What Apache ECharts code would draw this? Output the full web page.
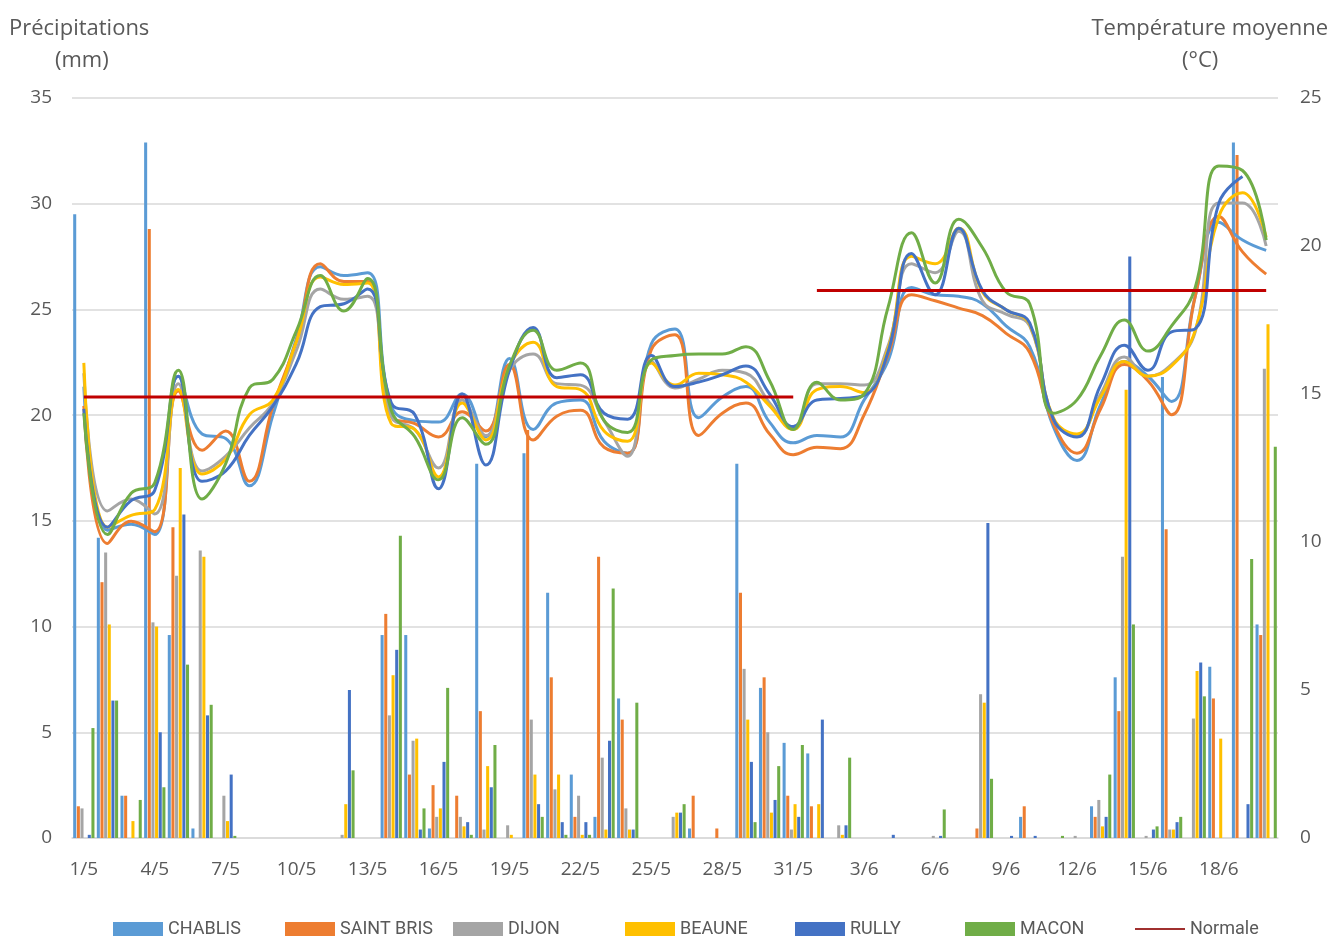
<!DOCTYPE html>
<html>
<head>
<meta charset="utf-8">
<title>Précipitations et températures</title>
<script src="https://cdn.jsdelivr.net/npm/echarts@6/dist/echarts.min.js"></script>
<style>
  html, body { margin: 0; padding: 0; background: #ffffff; }
  #chart { width: 1333px; height: 938px; }
</style>
</head>
<body>
<div id="chart"></div>
<script>
// jours (mai - juin)
const jours = [
  "1/5", "2/5", "3/5", "4/5", "5/5", "6/5", "7/5", "8/5", "9/5", "10/5",
  "11/5", "12/5", "13/5", "14/5", "15/5", "16/5", "17/5", "18/5", "19/5", "20/5",
  "21/5", "22/5", "23/5", "24/5", "25/5", "26/5", "27/5", "28/5", "29/5", "30/5",
  "31/5", "1/6", "2/6", "3/6", "4/6", "5/6", "6/6", "7/6", "8/6", "9/6",
  "10/6", "11/6", "12/6", "13/6", "14/6", "15/6", "16/6", "17/6", "18/6", "19/6",
  "20/6"
];

const stations = ["CHABLIS", "SAINT BRIS", "DIJON", "BEAUNE", "RULLY", "MACON"];
const couleurs = ["#5B9BD5", "#ED7D31", "#A5A5A5", "#FFC000", "#4472C4", "#70AD47"];

// précipitations (mm)
const pluieChablis = [
  29.5, 14.2, 2.0, 32.9, 9.6, 0.45, 0, 0, 0, 0,
  0, 0, 0, 9.6, 9.6, 0.45, 0, 17.7, 0, 18.2,
  11.6, 3.0, 1.0, 6.6, 0, 0, 0.45, 0, 17.7, 7.1,
  4.5, 4.0, 0, 0, 0, 0, 0, 0, 0, 0,
  1.0, 0, 0, 1.5, 7.6, 0, 21.8, 0, 8.1, 32.9,
  10.1
];
const pluieSaintBris = [
  1.5, 12.1, 2.0, 28.8, 14.7, 0, 0, 0, 0, 0,
  0, 0, 0, 10.6, 3.0, 2.5, 2.0, 6.0, 0, 19.3,
  7.6, 1.0, 13.3, 5.6, 0, 0, 2.0, 0.45, 11.6, 7.6,
  2.0, 1.5, 0, 0, 0, 0, 0, 0, 0.45, 0,
  1.5, 0, 0, 1.0, 6.0, 0, 14.6, 0, 6.6, 32.3,
  9.6
];
const pluieDijon = [
  1.4, 13.5, 0, 10.2, 12.4, 13.6, 2.0, 0, 0, 0,
  0, 0.15, 0, 5.8, 4.6, 1.0, 1.0, 0.4, 0.6, 5.6,
  2.3, 2.0, 3.8, 1.4, 0, 1.0, 0, 0, 8.0, 5.0,
  0.4, 0, 0.6, 0, 0, 0, 0.1, 0, 6.8, 0,
  0, 0, 0.1, 1.8, 13.3, 0.1, 0.4, 5.65, 0, 0,
  22.2
];
const pluieBeaune = [
  0, 10.1, 0.8, 10.0, 17.5, 13.3, 0.8, 0, 0, 0,
  0, 1.6, 0, 7.7, 4.7, 1.4, 0.55, 3.4, 0.15, 3.0,
  3.0, 0.15, 0.4, 0.4, 0, 1.2, 0, 0, 5.6, 1.2,
  1.6, 1.6, 0.15, 0, 0, 0, 0, 0, 6.4, 0,
  0, 0, 0, 0.55, 21.2, 0, 0.4, 7.9, 4.7, 0,
  24.3
];
const pluieRully = [
  0.15, 6.5, 0, 5.0, 15.3, 5.8, 3.0, 0, 0, 0,
  0, 7.0, 0, 8.9, 0.4, 3.6, 0.75, 2.4, 0, 1.6,
  0.75, 0.75, 4.6, 0.4, 0, 1.2, 0, 0, 3.6, 1.8,
  1.0, 5.6, 0.6, 0, 0.15, 0, 0.1, 0, 14.9, 0.1,
  0.1, 0, 0, 1.0, 27.5, 0.4, 0.75, 8.3, 0, 1.6,
  0
];
const pluieMacon = [
  5.2, 6.5, 1.8, 2.4, 8.2, 6.3, 0.1, 0, 0, 0,
  0, 3.2, 0, 14.3, 1.4, 7.1, 0.15, 4.4, 0, 1.0,
  0.15, 0.15, 11.8, 6.4, 0, 1.6, 0, 0, 0.75, 3.4,
  4.4, 0, 3.8, 0, 0, 0, 1.35, 0, 2.8, 0,
  0, 0.1, 0, 3.0, 10.1, 0.55, 1.0, 6.7, 0, 13.2,
  18.5
];

// températures moyennes (°C)
const tempChablis = [
  15.25, 10.4, 10.6, 10.25, 15.6, 13.65, 13.5, 11.9, 14.3, 16.9,
  19.3, 19.0, 19.1, 14.6, 14.1, 14.05, 15.0, 13.55, 16.2, 13.8,
  14.7, 14.8, 13.4, 13.0, 16.7, 17.2, 14.2, 14.9, 15.25, 14.05,
  13.35, 13.6, 13.55, 14.8, 16.1, 18.6, 18.35, 18.3, 18.05, 17.3,
  16.6, 13.9, 12.75, 14.65, 16.1, 15.6, 14.75, 18.3, 20.8, 20.2,
  19.85
];
const tempSaintBris = [
  14.6, 9.95, 10.7, 10.35, 15.1, 13.1, 13.75, 12.05, 14.6, 16.8,
  19.4, 18.8, 18.8, 14.25, 14.0, 13.55, 14.4, 13.75, 16.0, 13.45,
  14.25, 14.45, 13.2, 13.0, 16.5, 17.0, 13.6, 14.35, 14.7, 13.65,
  12.95, 13.2, 13.15, 14.3, 16.3, 18.35, 18.15, 17.9, 17.65, 17.05,
  16.4, 14.0, 13.0, 14.5, 16.0, 15.45, 14.3, 18.3, 21.0, 19.8,
  19.05
];
const tempDijon = [
  15.7, 11.05, 11.45, 10.95, 15.35, 12.4, 12.9, 13.85, 14.7, 16.5,
  18.55, 18.2, 18.3, 14.25, 13.8, 12.5, 14.8, 13.6, 15.8, 16.35,
  15.35, 15.3, 14.1, 12.9, 16.1, 15.2, 15.5, 15.8, 15.7, 14.7,
  13.85, 15.35, 15.35, 15.3, 16.6, 19.4, 19.1, 20.5, 18.15, 17.7,
  17.3, 14.15, 13.6, 15.0, 16.25, 15.6, 16.0, 17.1, 21.45, 21.45,
  20.0
];
const tempBeaune = [
  16.05, 10.5, 10.9, 11.1, 15.15, 12.3, 12.8, 14.3, 14.8, 16.8,
  18.95, 18.7, 18.75, 14.0, 13.8, 12.2, 14.7, 13.45, 15.95, 16.75,
  15.25, 15.15, 13.75, 13.4, 16.05, 15.3, 15.7, 15.65, 15.4, 14.6,
  13.8, 15.15, 15.25, 15.05, 16.5, 19.65, 19.4, 20.6, 18.45, 17.85,
  17.35, 14.2, 13.65, 14.9, 16.1, 15.6, 15.95, 17.15, 21.0, 21.8,
  20.3
];
const tempRully = [
  14.5, 10.5, 11.4, 11.75, 15.6, 12.05, 12.4, 13.6, 14.6, 16.05,
  17.95, 18.05, 18.55, 14.7, 14.3, 11.8, 15.0, 12.6, 15.8, 17.25,
  15.55, 15.65, 14.35, 14.15, 16.3, 15.25, 15.4, 15.65, 15.95, 15.0,
  13.9, 14.8, 14.85, 14.95, 16.4, 19.75, 18.35, 20.6, 18.5, 17.85,
  17.4, 14.15, 13.55, 15.3, 16.65, 15.8, 17.1, 17.2, 21.45, 22.35,
  null
];
const tempMacon = [
  14.35, 10.25, 11.65, 12.0, 15.8, 11.45, 12.65, 15.2, 15.5, 17.15,
  19.0, 17.8, 18.9, 14.45, 13.55, 12.1, 14.2, 13.3, 15.95, 17.15,
  15.8, 16.05, 14.1, 13.7, 16.15, 16.3, 16.35, 16.35, 16.6, 15.45,
  13.8, 15.4, 14.8, 15.0, 17.9, 20.45, 18.75, 20.9, 19.95, 18.45,
  18.05, 14.35, 14.8, 16.3, 17.5, 16.45, 17.3, 18.6, 22.7, 22.55,
  20.2
];

// normales de saison (°C)
const normaleMai = [["1/5", 14.9], ["31/5", 14.9]];
const normaleJuin = [["1/6", 18.5], ["20/6", 18.5]];

const pluies = [pluieChablis, pluieSaintBris, pluieDijon, pluieBeaune, pluieRully, pluieMacon];
const temps = [tempChablis, tempSaintBris, tempDijon, tempBeaune, tempRully, tempMacon];

const police = "'Open Sans', 'Liberation Sans', sans-serif";
const gris = "#595959";

// une légende par entrée, pour garder l'espacement régulier
const legendes = () => {
  const noms = stations.concat(["Normale"]);
  const gauches = [108, 280, 448, 620, 790, 960, 1130];
  let liste = [];

  for (let i = 0; i < noms.length; i++) {
    liste.push({
      left: gauches[i],
      top: 915,
      itemWidth: 50,
      itemHeight: 14,
      textStyle: {
        color: gris,
        fontSize: 18,
        fontFamily: "'Liberation Sans Narrow', 'Roboto', sans-serif",
      },
      data: [
        {
          name: noms[i],
          icon: noms[i] == "Normale" ? "path://M0,0H50V2H0Z" : "rect",
        },
      ],
    });
  }
  return liste;
};

const getOption = () => {
  let series = [];

  for (let i = 0; i < stations.length; i++) {
    series.push({
      name: stations[i],
      type: "bar",
      yAxisIndex: 0,
      barGap: "20%",
      barCategoryGap: "10%",
      itemStyle: { color: couleurs[i] },
      data: pluies[i],
    });
  }

  for (let i = 0; i < stations.length; i++) {
    series.push({
      name: stations[i],
      type: "line",
      yAxisIndex: 1,
      smooth: 0.45,
      symbol: "none",
      connectNulls: false,
      lineStyle: { color: couleurs[i], width: 3 },
      itemStyle: { color: couleurs[i] },
      data: temps[i],
    });
  }

  series.push({
    name: "Normale",
    type: "line",
    yAxisIndex: 1,
    symbol: "none",
    lineStyle: { color: "#C00000", width: 3 },
    itemStyle: { color: "#A0302F" },
    data: normaleMai,
  });
  series.push({
    name: "Normale",
    type: "line",
    yAxisIndex: 1,
    symbol: "none",
    lineStyle: { color: "#C00000", width: 3 },
    itemStyle: { color: "#A0302F" },
    data: normaleJuin,
  });

  return {
    animation: false,
    backgroundColor: "#ffffff",
    textStyle: { fontFamily: police },
    grid: {
      left: 72,
      right: 55,
      top: 98,
      bottom: 100,
    },
    legend: legendes(),
    graphic: [
      {
        type: "text",
        left: 9,
        top: 18,
        style: { text: "Précipitations", fill: gris, font: "22px " + police },
      },
      {
        type: "text",
        left: 55,
        top: 50,
        style: { text: "(mm)", fill: gris, font: "22px " + police },
      },
      {
        type: "text",
        right: 5,
        top: 18,
        style: { text: "Température moyenne", fill: gris, font: "22px " + police },
      },
      {
        type: "text",
        left: 1182,
        top: 50,
        style: { text: "(°C)", fill: gris, font: "22px " + police },
      },
    ],
    xAxis: [
      {
        type: "category",
        data: jours,
        boundaryGap: true,
        axisLine: { lineStyle: { color: "#D9D9D9", width: 1.5 } },
        axisTick: {
          interval: 2,
          length: 6,
          lineStyle: { color: "#BFBFBF", width: 1.5 },
        },
        axisLabel: {
          interval: 2,
          color: gris,
          fontSize: 19,
          margin: 22,
        },
      },
    ],
    yAxis: [
      {
        type: "value",
        min: 0,
        max: 35,
        interval: 5,
        axisLine: { show: false },
        axisTick: { show: false },
        axisLabel: { color: gris, fontSize: 19, margin: 20 },
        splitLine: { lineStyle: { color: "#D9D9D9", width: 1.5 } },
      },
      {
        type: "value",
        min: 0,
        max: 25,
        interval: 5,
        axisLine: { show: false },
        axisTick: { show: false },
        axisLabel: { color: gris, fontSize: 19, margin: 22 },
        splitLine: { show: false },
      },
    ],
    series: series,
  };
};

const initChart = () => {
  const chart = echarts.init(document.getElementById("chart"), null, { renderer: "canvas" });
  chart.setOption(getOption());
};

window.addEventListener("load", () => {
  initChart();
});
</script>
</body>
</html>
